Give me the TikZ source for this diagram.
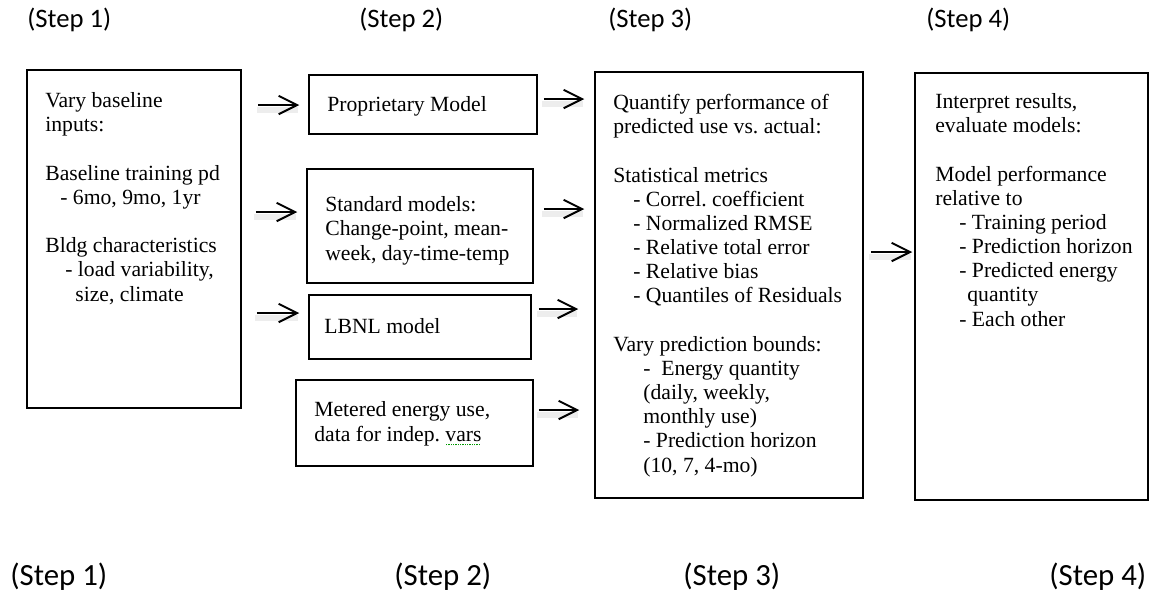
\documentclass[tikz,border=0pt]{standalone}
\usepackage{fontspec}
\setmainfont{Liberation Serif}
\newfontfamily\stepfont{Carlito}
\usetikzlibrary{arrows.meta,fit}
\frenchspacing
\newlength\spellw
\newcommand\spellmark[1]{\settowidth\spellw{#1}\rlap{\raisebox{-2.6pt}{\textcolor{green!60!black}{\leaders\hbox to 1.4pt{\hss\rule{0.7pt}{0.7pt}\hss}\hskip\spellw}}}#1}

\tikzset{
  box/.style={draw,line width=0.9pt,inner sep=0pt},
  txt/.style={align=left,anchor=base west,inner sep=0pt,font=\fontsize{13}{14.5}\selectfont},
  toplabel/.style={anchor=base west,inner sep=0pt,font=\stepfont\fontsize{16}{18}\selectfont},
  botlabel/.style={anchor=base west,inner sep=0pt,font=\stepfont\fontsize{18.5}{20}\selectfont},
  arr/.style={-{Straight Barb[length=11pt,width=11pt]},line width=1.2pt,
    preaction={draw=black!7,line width=3.5pt,-,transform canvas={shift={(-1pt,-3pt)}}}},
}

\begin{document}
\begin{tikzpicture}[x=0.6pt,y=-0.6pt]
\useasboundingbox (0,0) rectangle (1153,592);
% step labels, top row
\node[toplabel] (top1) at (27,27) {(Step 1)};
\node[toplabel] (top2) at (359,27) {(Step 2)};
\node[toplabel] (top3) at (608,27) {(Step 3)};
\node[toplabel] (top4) at (926,27) {(Step 4)};
% step labels, bottom row
\node[botlabel] (bot1) at (10,585) {(Step 1)};
\node[botlabel] (bot2) at (394,585) {(Step 2)};
\node[botlabel] (bot3) at (683,585) {(Step 3)};
\node[botlabel] (bot4) at (1049,585) {(Step 4)};
%
\node[box,fit={(27,70)(241,408)}] (inputs) {};
\node[box,fit={(309,75)(537,134)}] (prop) {};
\node[box,fit={(307,169)(533,283)}] (std) {};
\node[box,fit={(309,295)(531,359)}] (lbnl) {};
\node[box,fit={(296,380)(533,466)}] (meter) {};
\node[box,fit={(595,72)(863,498)}] (perf) {};
\node[box,fit={(915,73)(1148,500)}] (interp) {};
% texts sit on the baseline of their last line
\node[txt] (inputstext) at (45,301) {Vary baseline\\inputs:\\[14.5pt]
  Baseline training pd\\\hspace*{9pt}- 6mo, 9mo, 1yr\\[14.5pt]
  Bldg characteristics\\\hspace*{12pt}- load variability,\\\hspace*{18pt}size, climate};
\node[txt] (proptext) at (327,111) {Proprietary Model};
\node[txt] (stdtext) at (325,260) {Standard models:\\Change-point, mean-\\week, day-time-temp};
\node[txt] (lbnltext) at (324,333) {LBNL model};
\node[txt] (metertext) at (314,441) {Metered energy use,\\data for indep. \spellmark{vars}};
\node[txt] (perftext) at (613,472) {Quantify performance of\\predicted use vs. actual:\\[14.5pt]
  Statistical metrics\\\hspace*{12pt}- Correl. coefficient\\\hspace*{12pt}- Normalized RMSE\\
  \hspace*{12pt}- Relative total error\\\hspace*{12pt}- Relative bias\\
  \hspace*{12pt}- Quantiles of Residuals\\[14.5pt]
  Vary prediction bounds:\\\hspace*{18pt}-~ Energy quantity\\\hspace*{18pt}(daily, weekly,\\
  \hspace*{18pt}monthly use)\\\hspace*{18pt}- Prediction horizon\\\hspace*{18pt}(10, 7, 4-mo)};
\node[txt] (interptext) at (935,326) {Interpret results,\\evaluate models:\\[14.5pt]
  Model performance\\relative to\\\hspace*{14.4pt}- Training period\\
  \hspace*{14.4pt}- Prediction horizon\\\hspace*{14.4pt}- Predicted energy\\
  \hspace*{19.2pt}quantity\\\hspace*{14.4pt}- Each other};
%
\draw[arr,shorten <=10pt,shorten >=5.4pt] (inputs.east |- 0,105) -- (prop.west |- 0,105);
\draw[arr,shorten <=8.4pt,shorten >=5.4pt] (inputs.east |- 0,212) -- (std.west |- 0,212);
\draw[arr,shorten <=9pt,shorten >=5.4pt] (inputs.east |- 0,313) -- (lbnl.west |- 0,313);
%
\draw[arr,shorten <=3.6pt,shorten >=6pt] (prop.east |- 0,99) -- (perf.west |- 0,99);
\draw[arr,shorten <=6pt,shorten >=6pt] (std.east |- 0,209) -- (perf.west |- 0,209);
\draw[arr,shorten <=4.2pt,shorten >=9.6pt] (lbnl.east |- 0,309) -- (perf.west |- 0,309);
\draw[arr,shorten <=3pt,shorten >=9pt] (meter.east |- 0,410) -- (perf.west |- 0,410);
%
\draw[arr,shorten <=4.2pt,shorten >=1.2pt] (perf.east |- 0,252) -- (interp.west |- 0,252);
\end{tikzpicture}
\end{document}
